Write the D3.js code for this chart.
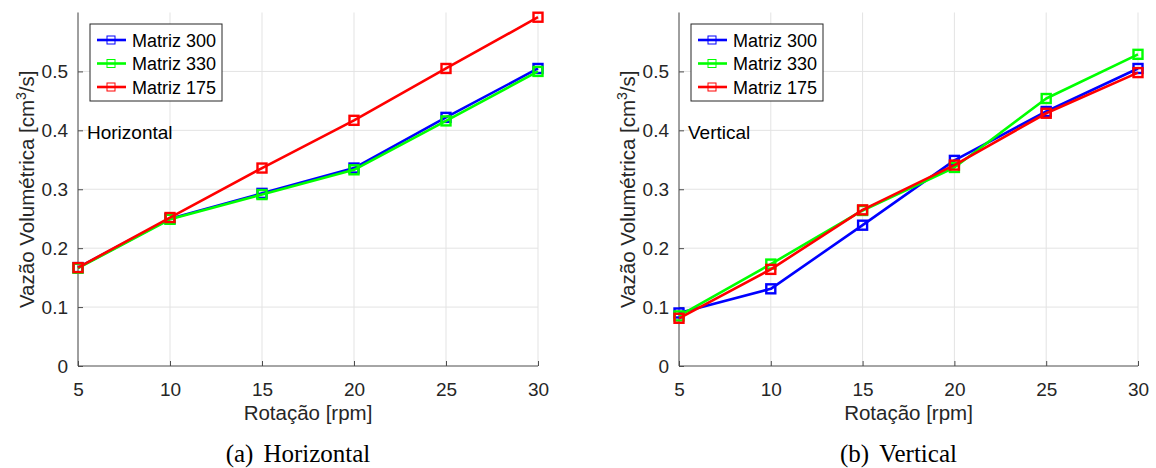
<!DOCTYPE html>
<html>
<head>
<meta charset="utf-8">
<script src="https://cdn.jsdelivr.net/npm/d3@7"></script>
<style>
  body { margin: 0; background: #fff; }
  svg { display: block; }
  .axis path, .axis line { stroke: #4d4d4d; }
  .axis text { fill: #262626; font-family: "Liberation Sans", Arial, sans-serif; font-size: 19px; }
</style>
</head>
<body>
<div id="chart"></div>
<script>
// Data
const rpm = [5, 10, 15, 20, 25, 30];
const yTicks = [0, 0.1, 0.2, 0.3, 0.4, 0.5];
const seriesNames = ["Matriz 300", "Matriz 330", "Matriz 175"];
const seriesColors = ["#0000ff", "#00ff00", "#ff0000"];

const horizM300 = [0.167, 0.250, 0.293, 0.336, 0.422, 0.505];
const horizM330 = [0.166, 0.249, 0.291, 0.333, 0.416, 0.500];
const horizM175 = [0.167, 0.252, 0.336, 0.417, 0.505, 0.592];

const vertM300 = [0.090, 0.131, 0.239, 0.349, 0.432, 0.505];
const vertM330 = [0.085, 0.173, 0.264, 0.337, 0.454, 0.529];
const vertM175 = [0.081, 0.164, 0.265, 0.341, 0.429, 0.498];

const panels = [
  { left: 78, right: 538, tag: "Horizontal", caption: "(a)", capName: "Horizontal",
    series: [horizM300, horizM330, horizM175] },
  { left: 679, right: 1138, tag: "Vertical", caption: "(b)", capName: "Vertical",
    series: [vertM300, vertM330, vertM175] }
];

const W = 1156, H = 468;
const yTop = 12.5, yBottom = 366;

const svg = d3.select("#chart").append("svg")
  .attr("width", W).attr("height", H);

const y = d3.scaleLinear().domain([0, 0.6]).range([yBottom, yTop]);

panels.forEach(p => {
  const x = d3.scaleLinear().domain([5, 30]).range([p.left, p.right]);
  const g = svg.append("g");

  // grid
  g.append("g").selectAll("line").data(rpm).enter().append("line")
    .attr("x1", d => x(d)).attr("x2", d => x(d))
    .attr("y1", yTop).attr("y2", yBottom)
    .attr("stroke", "#e3e3e3").attr("stroke-width", 1);
  g.append("g").selectAll("line").data(yTicks.slice(1)).enter().append("line")
    .attr("x1", p.left).attr("x2", p.right)
    .attr("y1", d => y(d)).attr("y2", d => y(d))
    .attr("stroke", "#e3e3e3").attr("stroke-width", 1);

  // axes
  g.append("g").attr("class", "axis")
    .attr("transform", `translate(0,${yBottom})`)
    .call(d3.axisBottom(x).tickValues(rpm).tickSize(-5).tickSizeOuter(0).tickPadding(17).tickFormat(d3.format("d")))
    .call(a => a.select(".domain").attr("d", `M${p.left},0H${p.right}`));
  g.append("g").attr("class", "axis")
    .attr("transform", `translate(${p.left},0)`)
    .call(d3.axisLeft(y).tickValues(yTicks).tickSize(-5).tickSizeOuter(0).tickPadding(10).tickFormat(d => d === 0 ? "0" : d3.format(".1f")(d)))
    .call(a => a.select(".domain").attr("d", `M0,${yBottom}V${yTop}`));

  // lines + markers
  p.series.forEach((vals, i) => {
    const pts = rpm.map((r, k) => [r, vals[k]]);
    g.append("path").datum(pts)
      .attr("fill", "none").attr("stroke", seriesColors[i]).attr("stroke-width", 2.6)
      .attr("stroke-linejoin", "round")
      .attr("d", d3.line().x(d => x(d[0])).y(d => y(d[1])));
    g.append("g").selectAll("rect").data(pts).enter().append("rect")
      .attr("x", d => x(d[0]) - 4.5).attr("y", d => y(d[1]) - 4.5)
      .attr("width", 9).attr("height", 9)
      .attr("fill", "none").attr("stroke", seriesColors[i]).attr("stroke-width", 2.4);
  });

  // axis labels
  g.append("text")
    .attr("x", (p.left + p.right) / 2).attr("y", 420)
    .attr("text-anchor", "middle")
    .attr("font-family", "Liberation Sans, Arial, sans-serif").attr("font-size", 20.5).attr("fill", "#262626")
    .text("Rotação [rpm]");
  const yl = g.append("text")
    .attr("transform", `translate(${p.left - 44},${(yTop + yBottom) / 2}) rotate(-90)`)
    .attr("text-anchor", "middle")
    .attr("font-family", "Liberation Sans, Arial, sans-serif").attr("font-size", 20.5).attr("fill", "#262626");
  yl.append("tspan").text("Vazão Volumétrica [cm");
  yl.append("tspan").attr("font-size", 14).attr("dy", -8).text("3");
  yl.append("tspan").attr("dy", 8).text("/s]");

  // in-plot tag
  g.append("text")
    .attr("x", p.left + 9).attr("y", 139)
    .attr("font-family", "Liberation Sans, Arial, sans-serif").attr("font-size", 19).attr("fill", "#000")
    .text(p.tag);

  // legend
  const lg = g.append("g").attr("transform", `translate(${p.left + 12},24)`);
  lg.append("rect").attr("width", 132).attr("height", 77)
    .attr("fill", "#fff").attr("stroke", "#262626").attr("stroke-width", 1);
  seriesNames.forEach((name, i) => {
    const cy = 16 + i * 23.5;
    lg.append("line").attr("x1", 7).attr("x2", 36).attr("y1", cy).attr("y2", cy)
      .attr("stroke", seriesColors[i]).attr("stroke-width", 2.6);
    lg.append("rect").attr("x", 17).attr("y", cy - 4).attr("width", 8).attr("height", 8)
      .attr("fill", "none").attr("stroke", seriesColors[i]).attr("stroke-width", 1);
    lg.append("text").attr("x", 42).attr("y", cy + 6.5)
      .attr("font-family", "Liberation Sans, Arial, sans-serif").attr("font-size", 18).attr("fill", "#000")
      .text(name);
  });

  // caption
  const cap = svg.append("text")
    .attr("x", (p.left + p.right) / 2 - 10).attr("y", 462)
    .attr("text-anchor", "middle")
    .attr("font-family", "Liberation Serif, Times New Roman, serif").attr("font-size", 25).attr("fill", "#000");
  cap.append("tspan").text(p.caption);
  cap.append("tspan").attr("dx", 10).text(p.capName);
});
</script>
</body>
</html>
